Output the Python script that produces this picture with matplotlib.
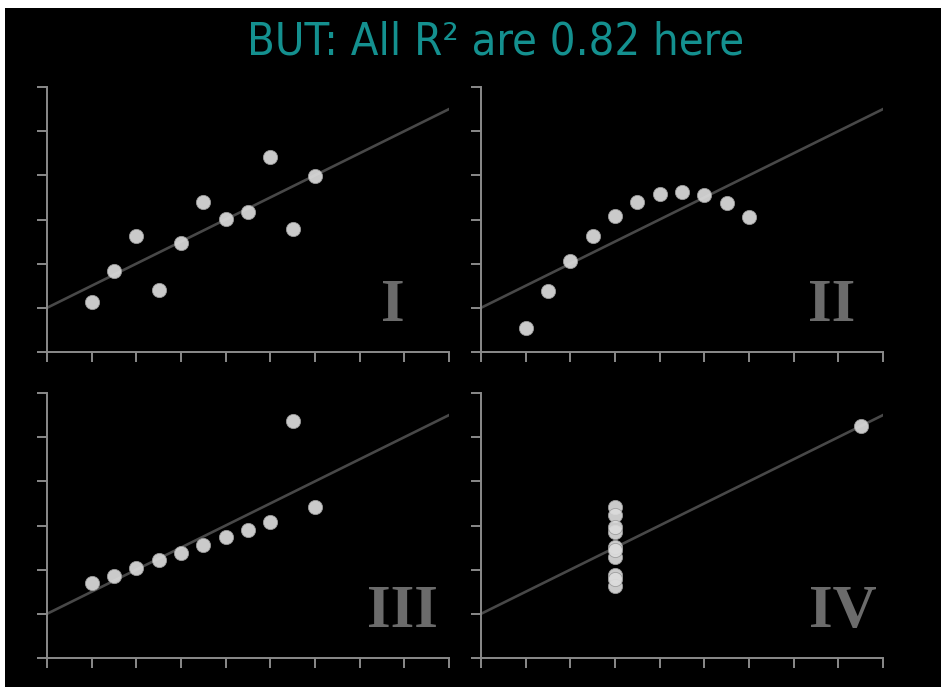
import matplotlib
matplotlib.use("Agg")
import matplotlib.pyplot as plt
from matplotlib.patches import Rectangle

# Anscombe's quartet
x1 = [10, 8, 13, 9, 11, 14, 6, 4, 12, 7, 5]
y1 = [8.04, 6.95, 7.58, 8.81, 8.33, 9.96, 7.24, 4.26, 10.84, 4.82, 5.68]
y2 = [9.14, 8.14, 8.74, 8.77, 9.26, 8.10, 6.13, 3.10, 9.13, 7.26, 4.74]
y3 = [7.46, 6.77, 12.74, 7.11, 7.81, 8.84, 6.08, 5.39, 8.15, 6.42, 5.73]
x4 = [8, 8, 8, 8, 8, 8, 8, 19, 8, 8, 8]
y4 = [6.58, 5.76, 7.71, 8.84, 8.47, 7.04, 5.25, 12.50, 5.56, 7.91, 6.89]

fit_x = [2, 20]
fit_y = [3 + 0.5 * v for v in fit_x]   # y = 3 + 0.5x, same for all four

labels = ["I", "II", "III", "IV"]
label_x = [17.5, 17.7, 17.9, 18.2]
xticks = list(range(2, 21, 2))
yticks = list(range(2, 15, 2))

title = "BUT: All R\u00b2 are 0.82 here"

fig = plt.figure(figsize=(9.41, 6.87), dpi=100, facecolor="black")

# white edge strips like in the screenshot
fig.add_artist(Rectangle((0, 679 / 687), 1, 8 / 687, transform=fig.transFigure,
                         facecolor="white", edgecolor="none"))
fig.add_artist(Rectangle((0, 0), 5 / 941, 1, transform=fig.transFigure,
                         facecolor="white", edgecolor="none"))

W, H = 941, 687
boxes = [(47, 87), (481, 87), (47, 393), (481, 393)]  # left, top in pixels
data = [(x1, y1), (x1, y2), (x1, y3), (x4, y4)]

for (lx, ty), (xs, ys), lab, lbx in zip(boxes, data, labels, label_x):
    ax = fig.add_axes([lx / W, (H - ty - 265) / H, 402 / W, 265 / H])
    ax.set_facecolor("black")
    ax.plot(fit_x, fit_y, color="#484848", lw=1.9, zorder=1)
    ax.scatter(xs, ys, s=105, facecolor="#dcdcdc", edgecolor="#9a9a9a",
               linewidths=0.6, alpha=0.92, zorder=2)
    ax.set_xlim(2, 20)
    ax.set_ylim(2, 14)
    ax.set_xticks(xticks)
    ax.set_yticks(yticks)
    ax.set_xticklabels([])
    ax.set_yticklabels([])
    for s in ["top", "right"]:
        ax.spines[s].set_visible(False)
    for s in ["left", "bottom"]:
        ax.spines[s].set_color("#8a8a8a")
        ax.spines[s].set_linewidth(1.4)
        ax.spines[s].set_capstyle("projecting")
    ax.tick_params(colors="#8a8a8a", width=1.4, length=7, direction="out")
    ax.text(lbx, 3.4, lab, ha="center", va="baseline", color="#6b6b6b",
            fontsize=44, fontweight="bold", family="Liberation Serif")

fig.text(0.527, 0.921, title, ha="center", va="baseline", color="#14908f",
         fontsize=32.5, family="DejaVu Sans", fontstretch="condensed")

fig.savefig("out.png", dpi=100, facecolor=fig.get_facecolor())
